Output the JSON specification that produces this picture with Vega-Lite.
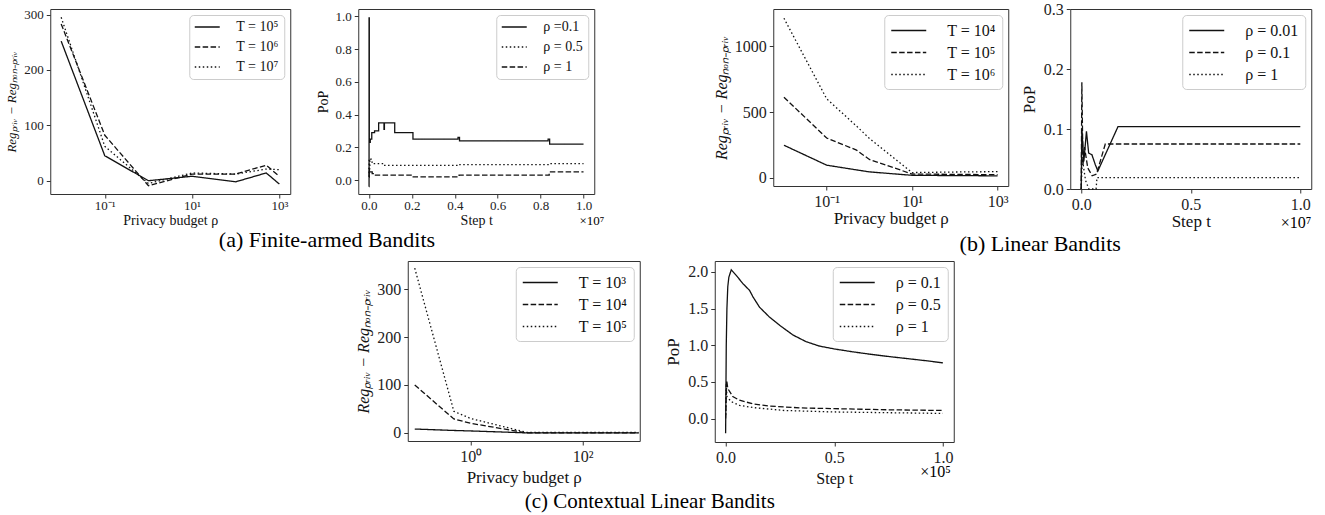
{
  "$schema": "https://vega.github.io/schema/vega-lite/v6.json",
  "padding": {"left": 5, "top": 0, "right": 5, "bottom": 1},
  "background": "white",
  "datasets": {
    "a1": [
      {"rho": 0.01, "y": 252, "s": "T = 10⁵"}, {"rho": 0.1, "y": 45, "s": "T = 10⁵"}, {"rho": 1, "y": 0, "s": "T = 10⁵"}, {"rho": 10, "y": 8, "s": "T = 10⁵"}, {"rho": 100, "y": -2, "s": "T = 10⁵"}, {"rho": 500, "y": 14, "s": "T = 10⁵"}, {"rho": 1000, "y": -6, "s": "T = 10⁵"},
      {"rho": 0.01, "y": 283, "s": "T = 10⁶"}, {"rho": 0.1, "y": 82, "s": "T = 10⁶"}, {"rho": 1, "y": -9, "s": "T = 10⁶"}, {"rho": 10, "y": 12, "s": "T = 10⁶"}, {"rho": 100, "y": 12, "s": "T = 10⁶"}, {"rho": 500, "y": 28, "s": "T = 10⁶"}, {"rho": 1000, "y": 8, "s": "T = 10⁶"},
      {"rho": 0.01, "y": 295, "s": "T = 10⁷"}, {"rho": 0.1, "y": 62, "s": "T = 10⁷"}, {"rho": 1, "y": -5, "s": "T = 10⁷"}, {"rho": 10, "y": 14, "s": "T = 10⁷"}, {"rho": 100, "y": 12, "s": "T = 10⁷"}, {"rho": 500, "y": 21, "s": "T = 10⁷"}, {"rho": 1000, "y": 20, "s": "T = 10⁷"}
    ],
    "a2": [
      {"t": 0, "y": -0.04, "s": "ρ =0.1"}, {"t": 4000, "y": 0.99, "s": "ρ =0.1"}, {"t": 15000, "y": 0.23, "s": "ρ =0.1"}, {"t": 60000, "y": 0.25, "s": "ρ =0.1"}, {"t": 130000, "y": 0.29, "s": "ρ =0.1"}, {"t": 260000, "y": 0.3, "s": "ρ =0.1"}, {"t": 450000, "y": 0.35, "s": "ρ =0.1"}, {"t": 700000, "y": 0.31, "s": "ρ =0.1"}, {"t": 720000, "y": 0.35, "s": "ρ =0.1"}, {"t": 1200000, "y": 0.29, "s": "ρ =0.1"}, {"t": 2050000, "y": 0.25, "s": "ρ =0.1"}, {"t": 4150000, "y": 0.26, "s": "ρ =0.1"}, {"t": 4220000, "y": 0.24, "s": "ρ =0.1"}, {"t": 8350000, "y": 0.25, "s": "ρ =0.1"}, {"t": 8420000, "y": 0.22, "s": "ρ =0.1"}, {"t": 10000000, "y": 0.22, "s": "ρ =0.1"},
      {"t": 0, "y": 0.02, "s": "ρ = 0.5"}, {"t": 8000, "y": 0.12, "s": "ρ = 0.5"}, {"t": 20000, "y": 0.07, "s": "ρ = 0.5"}, {"t": 40000, "y": 0.13, "s": "ρ = 0.5"}, {"t": 90000, "y": 0.11, "s": "ρ = 0.5"}, {"t": 150000, "y": 0.1, "s": "ρ = 0.5"}, {"t": 700000, "y": 0.09, "s": "ρ = 0.5"}, {"t": 4200000, "y": 0.095, "s": "ρ = 0.5"}, {"t": 8400000, "y": 0.1, "s": "ρ = 0.5"}, {"t": 10000000, "y": 0.1, "s": "ρ = 0.5"},
      {"t": 0, "y": 0.02, "s": "ρ = 1"}, {"t": 8000, "y": 0.07, "s": "ρ = 1"}, {"t": 20000, "y": 0.04, "s": "ρ = 1"}, {"t": 50000, "y": 0.05, "s": "ρ = 1"}, {"t": 150000, "y": 0.04, "s": "ρ = 1"}, {"t": 300000, "y": 0.03, "s": "ρ = 1"}, {"t": 2000000, "y": 0.02, "s": "ρ = 1"}, {"t": 4200000, "y": 0.03, "s": "ρ = 1"}, {"t": 8400000, "y": 0.05, "s": "ρ = 1"}, {"t": 10000000, "y": 0.05, "s": "ρ = 1"}
    ],
    "b1": [
      {"rho": 0.01, "y": 248, "s": "T = 10⁴"}, {"rho": 0.1, "y": 97, "s": "T = 10⁴"}, {"rho": 0.5, "y": 61, "s": "T = 10⁴"}, {"rho": 1, "y": 46, "s": "T = 10⁴"}, {"rho": 10, "y": 20, "s": "T = 10⁴"}, {"rho": 100, "y": 18, "s": "T = 10⁴"}, {"rho": 1000, "y": 16, "s": "T = 10⁴"},
      {"rho": 0.01, "y": 612, "s": "T = 10⁵"}, {"rho": 0.1, "y": 303, "s": "T = 10⁵"}, {"rho": 0.5, "y": 211, "s": "T = 10⁵"}, {"rho": 1, "y": 140, "s": "T = 10⁵"}, {"rho": 10, "y": 30, "s": "T = 10⁵"}, {"rho": 100, "y": 27, "s": "T = 10⁵"}, {"rho": 1000, "y": 25, "s": "T = 10⁵"},
      {"rho": 0.01, "y": 1211, "s": "T = 10⁶"}, {"rho": 0.1, "y": 600, "s": "T = 10⁶"}, {"rho": 0.5, "y": 393, "s": "T = 10⁶"}, {"rho": 1, "y": 300, "s": "T = 10⁶"}, {"rho": 10, "y": 41, "s": "T = 10⁶"}, {"rho": 100, "y": 45, "s": "T = 10⁶"}, {"rho": 1000, "y": 48, "s": "T = 10⁶"}
    ],
    "b2": [
      {"t": 0, "y": 0, "s": "ρ = 0.01"}, {"t": 30000, "y": 0.101, "s": "ρ = 0.01"}, {"t": 120000, "y": 0.046, "s": "ρ = 0.01"}, {"t": 240000, "y": 0.096, "s": "ρ = 0.01"}, {"t": 340000, "y": 0.06, "s": "ρ = 0.01"}, {"t": 490000, "y": 0.057, "s": "ρ = 0.01"}, {"t": 640000, "y": 0.041, "s": "ρ = 0.01"}, {"t": 760000, "y": 0.03, "s": "ρ = 0.01"}, {"t": 1680000, "y": 0.104, "s": "ρ = 0.01"}, {"t": 10000000, "y": 0.104, "s": "ρ = 0.01"},
      {"t": 0, "y": 0, "s": "ρ = 0.1"}, {"t": 30000, "y": 0.178, "s": "ρ = 0.1"}, {"t": 80000, "y": 0.04, "s": "ρ = 0.1"}, {"t": 150000, "y": 0.07, "s": "ρ = 0.1"}, {"t": 300000, "y": 0.035, "s": "ρ = 0.1"}, {"t": 500000, "y": 0.022, "s": "ρ = 0.1"}, {"t": 700000, "y": 0.025, "s": "ρ = 0.1"}, {"t": 1100000, "y": 0.075, "s": "ρ = 0.1"}, {"t": 10000000, "y": 0.075, "s": "ρ = 0.1"},
      {"t": 0, "y": 0, "s": "ρ = 1"}, {"t": 50000, "y": 0.05, "s": "ρ = 1"}, {"t": 200000, "y": 0.014, "s": "ρ = 1"}, {"t": 350000, "y": 0, "s": "ρ = 1"}, {"t": 680000, "y": 0, "s": "ρ = 1"}, {"t": 720000, "y": 0.019, "s": "ρ = 1"}, {"t": 10000000, "y": 0.019, "s": "ρ = 1"}
    ],
    "c1": [
      {"rho": 0.1, "y": 8, "s": "T = 10³"}, {"rho": 0.5, "y": 5, "s": "T = 10³"}, {"rho": 1, "y": 4, "s": "T = 10³"}, {"rho": 10, "y": 0, "s": "T = 10³"}, {"rho": 100, "y": 0, "s": "T = 10³"}, {"rho": 1000, "y": 0, "s": "T = 10³"},
      {"rho": 0.1, "y": 100, "s": "T = 10⁴"}, {"rho": 0.5, "y": 29, "s": "T = 10⁴"}, {"rho": 1, "y": 20, "s": "T = 10⁴"}, {"rho": 10, "y": 0, "s": "T = 10⁴"}, {"rho": 100, "y": 0, "s": "T = 10⁴"}, {"rho": 1000, "y": 0, "s": "T = 10⁴"},
      {"rho": 0.1, "y": 344, "s": "T = 10⁵"}, {"rho": 0.5, "y": 45, "s": "T = 10⁵"}, {"rho": 1, "y": 30, "s": "T = 10⁵"}, {"rho": 10, "y": 1, "s": "T = 10⁵"}, {"rho": 100, "y": 1, "s": "T = 10⁵"}, {"rho": 1000, "y": 1, "s": "T = 10⁵"}
    ],
    "c2": [
      {"t": 0, "y": -0.2, "s": "ρ = 0.1"}, {"t": 300, "y": 1.0, "s": "ρ = 0.1"}, {"t": 600, "y": 1.5, "s": "ρ = 0.1"}, {"t": 1000, "y": 1.8, "s": "ρ = 0.1"}, {"t": 1500, "y": 1.93, "s": "ρ = 0.1"}, {"t": 2600, "y": 2.03, "s": "ρ = 0.1"}, {"t": 5000, "y": 1.95, "s": "ρ = 0.1"}, {"t": 8000, "y": 1.84, "s": "ρ = 0.1"}, {"t": 11000, "y": 1.75, "s": "ρ = 0.1"}, {"t": 12600, "y": 1.66, "s": "ρ = 0.1"}, {"t": 15600, "y": 1.52, "s": "ρ = 0.1"}, {"t": 20000, "y": 1.39, "s": "ρ = 0.1"}, {"t": 25000, "y": 1.27, "s": "ρ = 0.1"}, {"t": 31000, "y": 1.14, "s": "ρ = 0.1"}, {"t": 37000, "y": 1.05, "s": "ρ = 0.1"}, {"t": 43000, "y": 0.99, "s": "ρ = 0.1"}, {"t": 50000, "y": 0.95, "s": "ρ = 0.1"}, {"t": 58600, "y": 0.91, "s": "ρ = 0.1"}, {"t": 66000, "y": 0.88, "s": "ρ = 0.1"}, {"t": 74000, "y": 0.85, "s": "ρ = 0.1"}, {"t": 83000, "y": 0.82, "s": "ρ = 0.1"}, {"t": 92000, "y": 0.79, "s": "ρ = 0.1"}, {"t": 100000, "y": 0.76, "s": "ρ = 0.1"},
      {"t": 0, "y": 0.0, "s": "ρ = 0.5"}, {"t": 500, "y": 0.52, "s": "ρ = 0.5"}, {"t": 1000, "y": 0.41, "s": "ρ = 0.5"}, {"t": 3300, "y": 0.3, "s": "ρ = 0.5"}, {"t": 6400, "y": 0.25, "s": "ρ = 0.5"}, {"t": 12600, "y": 0.2, "s": "ρ = 0.5"}, {"t": 20000, "y": 0.17, "s": "ρ = 0.5"}, {"t": 35000, "y": 0.145, "s": "ρ = 0.5"}, {"t": 50000, "y": 0.135, "s": "ρ = 0.5"}, {"t": 74000, "y": 0.12, "s": "ρ = 0.5"}, {"t": 100000, "y": 0.11, "s": "ρ = 0.5"},
      {"t": 0, "y": 0.05, "s": "ρ = 1"}, {"t": 300, "y": 0.48, "s": "ρ = 1"}, {"t": 600, "y": 0.3, "s": "ρ = 1"}, {"t": 2600, "y": 0.23, "s": "ρ = 1"}, {"t": 6400, "y": 0.18, "s": "ρ = 1"}, {"t": 12600, "y": 0.15, "s": "ρ = 1"}, {"t": 27000, "y": 0.11, "s": "ρ = 1"}, {"t": 50000, "y": 0.09, "s": "ρ = 1"}, {"t": 74000, "y": 0.08, "s": "ρ = 1"}, {"t": 100000, "y": 0.07, "s": "ρ = 1"}
    ]
  },
  "vconcat": [
    {
      "hconcat": [
        {
          "hconcat": [
            {
              "width": 240, "height": 185,
              "data": {"name": "a1"},
              "mark": {"type": "line", "strokeWidth": 1.3, "color": "#111"},
              "encoding": {
                "x": {"field": "rho", "type": "quantitative", "scale": {"type": "log", "domain": [0.00562, 1778], "nice": false}, "axis": {"values": [0.1, 10, 1000], "labelExpr": "datum.value < 0.5 ? '10⁻¹' : datum.value < 50 ? '10¹' : '10³'", "title": "Privacy budget ρ", "labelFontSize": 13, "titleFontSize": 14, "labelPadding": 1, "titlePadding": 1}},
                "y": {"field": "y", "type": "quantitative", "scale": {"domain": [-24, 310], "nice": false, "zero": false}, "axis": {"values": [0, 100, 200, 300], "title": "Regₚᵣᵢᵥ − Regₙₒₙ₋ₚᵣᵢᵥ", "titleFontStyle": "italic", "labelFontSize": 13, "titleFontSize": 13}},
                "strokeDash": {"field": "s", "type": "nominal", "scale": {"domain": ["T = 10⁵", "T = 10⁶", "T = 10⁷"], "range": [[1, 0], [5.5, 2.4], [1.5, 2.5]]}, "legend": {"title": null, "labelFontSize": 14, "symbolType": "M-2,0H2", "symbolSize": 156, "symbolOffset": 6, "labelOffset": 22, "rowPadding": 6, "padding": 5}}
              }
            },
            {
              "width": 236, "height": 185,
              "title": {"text": "×10⁷", "orient": "bottom", "anchor": "end", "frame": "group", "fontSize": 13, "offset": -12, "dx": 10},
              "data": {"name": "a2"},
              "mark": {"type": "line", "strokeWidth": 1.3, "color": "#111", "interpolate": "step-after"},
              "encoding": {
                "x": {"field": "t", "type": "quantitative", "scale": {"domain": [-500000, 10500000], "nice": false, "zero": false}, "axis": {"values": [0, 2000000, 4000000, 6000000, 8000000, 10000000], "labelExpr": "format(datum.value / 10000000, '.1f')", "title": "Step t", "labelFontSize": 13, "titleFontSize": 14, "labelPadding": 1, "titlePadding": 1}},
                "y": {"field": "y", "type": "quantitative", "scale": {"domain": [-0.085, 1.045], "nice": false, "zero": false}, "axis": {"values": [0, 0.2, 0.4, 0.6, 0.8, 1.0], "format": ".1f", "title": "PoP", "labelFontSize": 13, "titleFontSize": 14}},
                "strokeDash": {"field": "s", "type": "nominal", "scale": {"domain": ["ρ =0.1", "ρ = 0.5", "ρ = 1"], "range": [[1, 0], [1.5, 2.5], [5.5, 2.4]]}, "legend": {"title": null, "labelFontSize": 14, "symbolType": "M-2,0H2", "symbolSize": 156, "symbolOffset": 6, "labelOffset": 22, "rowPadding": 6, "padding": 5}}
              }
            }
          ],
          "spacing": 68,
          "bounds": "flush",
          "resolve": {"scale": {"strokeDash": "independent"}},
          "title": {"text": "(a) Finite-armed Bandits", "orient": "bottom", "anchor": "middle", "frame": "bounds", "fontSize": 22, "offset": 1, "dx": 22}
        },
        {
          "hconcat": [
            {
              "width": 235, "height": 177,
              "data": {"name": "b1"},
              "mark": {"type": "line", "strokeWidth": 1.3, "color": "#111"},
              "encoding": {
                "x": {"field": "rho", "type": "quantitative", "scale": {"type": "log", "domain": [0.00562, 1778], "nice": false}, "axis": {"values": [0.1, 10, 1000], "labelExpr": "datum.value < 0.5 ? '10⁻¹' : datum.value < 50 ? '10¹' : '10³'", "title": "Privacy budget ρ", "labelFontSize": 16, "titleFontSize": 17, "titlePadding": 1}},
                "y": {"field": "y", "type": "quantitative", "scale": {"domain": [-61, 1281], "nice": false, "zero": false}, "axis": {"values": [0, 500, 1000], "format": "d", "title": "Regₚᵣᵢᵥ − Regₙₒₙ₋ₚᵣᵢᵥ", "titleFontStyle": "italic", "labelFontSize": 16, "titleFontSize": 16}},
                "strokeDash": {"field": "s", "type": "nominal", "scale": {"domain": ["T = 10⁴", "T = 10⁵", "T = 10⁶"], "range": [[1, 0], [5.5, 2.4], [1.5, 2.5]]}, "legend": {"title": null, "labelFontSize": 16, "symbolType": "M-2,0H2", "symbolSize": 306, "symbolOffset": 9, "labelOffset": 29, "rowPadding": 4, "padding": 6}}
              }
            },
            {
              "width": 241, "height": 180,
              "title": {"text": "×10⁷", "orient": "bottom", "anchor": "end", "frame": "group", "fontSize": 16, "offset": -14, "dx": 0},
              "data": {"name": "b2"},
              "mark": {"type": "line", "strokeWidth": 1.3, "color": "#111"},
              "encoding": {
                "x": {"field": "t", "type": "quantitative", "scale": {"domain": [-500000, 10500000], "nice": false, "zero": false}, "axis": {"values": [0, 5000000, 10000000], "labelExpr": "format(datum.value / 10000000, '.1f')", "title": "Step t", "labelFontSize": 16, "titleFontSize": 17, "titlePadding": 1}},
                "y": {"field": "y", "type": "quantitative", "scale": {"domain": [0, 0.3], "nice": false, "zero": false}, "axis": {"values": [0, 0.1, 0.2, 0.3], "format": ".1f", "title": "PoP", "labelFontSize": 16, "titleFontSize": 17}},
                "strokeDash": {"field": "s", "type": "nominal", "scale": {"domain": ["ρ = 0.01", "ρ = 0.1", "ρ = 1"], "range": [[1, 0], [5.5, 2.4], [1.5, 2.5]]}, "legend": {"title": null, "labelFontSize": 16, "symbolType": "M-2,0H2", "symbolSize": 306, "symbolOffset": 9, "labelOffset": 29, "rowPadding": 4, "padding": 6}}
              }
            }
          ],
          "spacing": 62,
          "bounds": "flush",
          "resolve": {"scale": {"strokeDash": "independent"}},
          "title": {"text": "(b) Linear Bandits", "orient": "bottom", "anchor": "middle", "frame": "bounds", "fontSize": 22, "offset": 2, "dx": 28}
        }
      ],
      "spacing": 107,
      "resolve": {"scale": {"strokeDash": "independent"}}
    },
    {
      "hconcat": [
        {
          "width": 232, "height": 180,
          "data": {"name": "c1"},
          "mark": {"type": "line", "strokeWidth": 1.3, "color": "#111"},
          "encoding": {
            "x": {"field": "rho", "type": "quantitative", "scale": {"type": "log", "domain": [0.075, 1050], "nice": false}, "axis": {"values": [1, 100], "labelExpr": "datum.value < 10 ? '10⁰' : '10²'", "title": "Privacy budget ρ", "labelFontSize": 16, "titleFontSize": 17}},
            "y": {"field": "y", "type": "quantitative", "scale": {"domain": [-17, 359], "nice": false, "zero": false}, "axis": {"values": [0, 100, 200, 300], "title": "Regₚᵣᵢᵥ − Regₙₒₙ₋ₚᵣᵢᵥ", "titleFontStyle": "italic", "labelFontSize": 16, "titleFontSize": 16}},
            "strokeDash": {"field": "s", "type": "nominal", "scale": {"domain": ["T = 10³", "T = 10⁴", "T = 10⁵"], "range": [[1, 0], [5.5, 2.4], [1.5, 2.5]]}, "legend": {"title": null, "labelFontSize": 16, "symbolType": "M-2,0H2", "symbolSize": 306, "symbolOffset": 9, "labelOffset": 29, "rowPadding": 4, "padding": 6}}
          }
        },
        {
          "width": 239, "height": 181,
          "title": {"text": "×10⁵", "orient": "bottom", "anchor": "end", "frame": "group", "fontSize": 16, "offset": -22, "dx": -3},
          "data": {"name": "c2"},
          "mark": {"type": "line", "strokeWidth": 1.3, "color": "#111"},
          "encoding": {
            "x": {"field": "t", "type": "quantitative", "scale": {"domain": [-5000, 105000], "nice": false, "zero": false}, "axis": {"values": [0, 50000, 100000], "labelExpr": "format(datum.value / 100000, '.1f')", "title": "Step t", "labelFontSize": 16, "titleFontSize": 16}},
            "y": {"field": "y", "type": "quantitative", "scale": {"domain": [-0.32, 2.15], "nice": false, "zero": false}, "axis": {"values": [0, 0.5, 1.0, 1.5, 2.0], "format": ".1f", "title": "PoP", "labelFontSize": 16, "titleFontSize": 17}},
            "strokeDash": {"field": "s", "type": "nominal", "scale": {"domain": ["ρ = 0.1", "ρ = 0.5", "ρ = 1"], "range": [[1, 0], [5.5, 2.4], [1.5, 2.5]]}, "legend": {"title": null, "labelFontSize": 16, "symbolType": "M-2,0H2", "symbolSize": 306, "symbolOffset": 9, "labelOffset": 29, "rowPadding": 4, "padding": 6}}
          }
        }
      ],
      "spacing": 75,
      "bounds": "flush",
      "resolve": {"scale": {"strokeDash": "independent"}},
      "title": {"text": "(c) Contextual Linear Bandits", "orient": "bottom", "anchor": "middle", "frame": "bounds", "fontSize": 21, "offset": 4, "dx": -5}
    }
  ],
  "spacing": 5,
  "center": true,
  "resolve": {"scale": {"strokeDash": "independent"}},
  "config": {
    "font": "Liberation Serif",
    "view": {"stroke": "#333", "strokeWidth": 1},
    "axis": {"grid": false, "domain": false, "tickColor": "#333", "tickSize": 4, "labelColor": "#222", "titleColor": "#111", "labelFont": "Liberation Serif", "titleFont": "Liberation Serif", "titleFontWeight": "normal", "labelPadding": 3, "titlePadding": 5},
    "legend": {"orient": "top-right", "offset": 6, "fillColor": "rgba(255,255,255,0.85)", "strokeColor": "#cccccc", "cornerRadius": 4, "symbolStrokeColor": "#111", "symbolStrokeWidth": 1.4, "labelFont": "Liberation Serif", "labelColor": "#111"},
    "title": {"font": "Liberation Serif", "fontWeight": "normal", "color": "#000"}
  }
}
